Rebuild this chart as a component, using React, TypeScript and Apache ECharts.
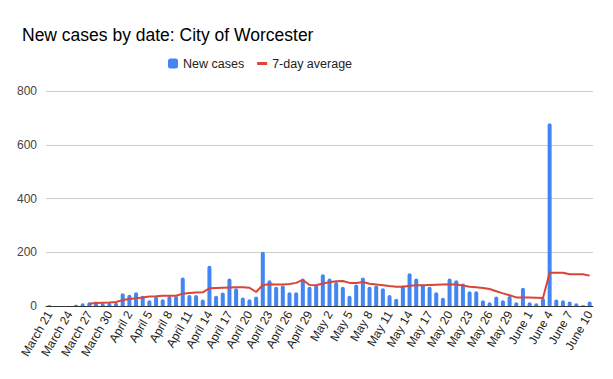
import React, { useEffect, useRef } from "react";
import * as echarts from "echarts";

const categories: string[] = (() => {
  const out: string[] = [];
  for (let d = 21; d <= 31; d++) out.push("March " + d);
  for (let d = 1; d <= 30; d++) out.push("April " + d);
  for (let d = 1; d <= 31; d++) out.push("May " + d);
  for (let d = 1; d <= 10; d++) out.push("June " + d);
  return out;
})();

const newCases: number[] = [
  3, 0, 0, 0, 5, 10, 14, 17, 10, 12, 12,
  47, 42, 51, 38, 21, 35, 25, 37, 37, 106, 41, 41, 24, 150, 38, 50, 102, 66, 32, 25,
  35, 202, 96, 72, 76, 51, 51, 102, 72, 76,
  118, 102, 89, 72, 38, 80, 106, 72, 76, 66, 41, 27, 76, 122, 102, 80, 72, 51, 31, 102,
  96, 84, 55, 55, 21, 14, 35, 21, 37, 14, 68,
  14, 10, 30, 680, 24, 21, 17, 10, 3, 17,
];

const sevenDayAvg: (number | null)[] = [
  null, null, null, null, null, null, 8, 11, 12, 13, 15,
  22, 26, 29, 32, 35, 36, 38, 38, 38, 46, 48, 50, 51, 66, 67, 68, 69, 70, 70, 68,
  52, 78, 81, 80, 80, 82, 86, 97, 78, 77,
  84, 88, 92, 93, 86, 86, 89, 83, 80, 77, 74, 72, 72, 75, 77, 77, 78, 79, 80, 81,
  80, 76, 72, 70, 67, 63, 55, 47, 40, 32, 32,
  32, 31, 30, 124, 124, 124, 118, 118, 118, 113,
];

const yTicks = { min: 0, max: 800, interval: 200 };

const FONT = "'Liberation Sans', Arial, sans-serif";

export default function App() {
  const ref = useRef<HTMLDivElement>(null);
  useEffect(() => {
    if (!ref.current) return;
    const chart = echarts.init(ref.current, undefined, { renderer: "svg" });
    chart.setOption({
      animation: false,
      backgroundColor: "#ffffff",
      textStyle: { fontFamily: FONT },
      title: {
        text: "New cases by date: City of Worcester",
        left: 17,
        top: 21,
        textStyle: { fontSize: 17.5, fontWeight: "normal", color: "#000000", fontFamily: FONT },
      },
      legend: {
        top: 52,
        left: 163,
        itemGap: 13,
        itemWidth: 10,
        itemHeight: 10,
        textStyle: { fontSize: 12.5, color: "#222222", fontFamily: FONT },
        data: [
          { name: "New cases", icon: "roundRect" },
          { name: "7-day average", icon: "path://M0,0 H10 V3 H0 Z", itemStyle: { color: "#DB4437" } },
        ],
      },
      grid: { left: 46, right: 20, top: 91, bottom: 73 },
      xAxis: {
        type: "category",
        data: categories,
        boundaryGap: true,
        axisTick: { show: false },
        axisLine: { lineStyle: { color: "#333333", width: 1 } },
        axisLabel: { interval: 2, rotate: 60, fontSize: 12, color: "#222222", margin: 6, fontFamily: FONT },
      },
      yAxis: {
        type: "value",
        min: yTicks.min,
        max: yTicks.max,
        interval: yTicks.interval,
        axisLabel: { fontSize: 12, color: "#444444", margin: 9, fontFamily: FONT },
        splitLine: { lineStyle: { color: "#cccccc" } },
        axisLine: { show: false },
        axisTick: { show: false },
      },
      series: [
        {
          name: "New cases",
          type: "bar",
          data: newCases,
          barWidth: 4,
          itemStyle: { color: "#4285F4", borderRadius: [2, 2, 0, 0] },
        },
        {
          name: "7-day average",
          type: "line",
          data: sevenDayAvg,
          showSymbol: false,
          symbol: "none",
          lineStyle: { color: "#DB4437", width: 2 },
          itemStyle: { color: "#DB4437" },
        },
      ],
    });
    return () => chart.dispose();
  }, []);
  return <div ref={ref} style={{ position: "absolute", left: 0, top: 0, width: 613, height: 379 }} />;
}
